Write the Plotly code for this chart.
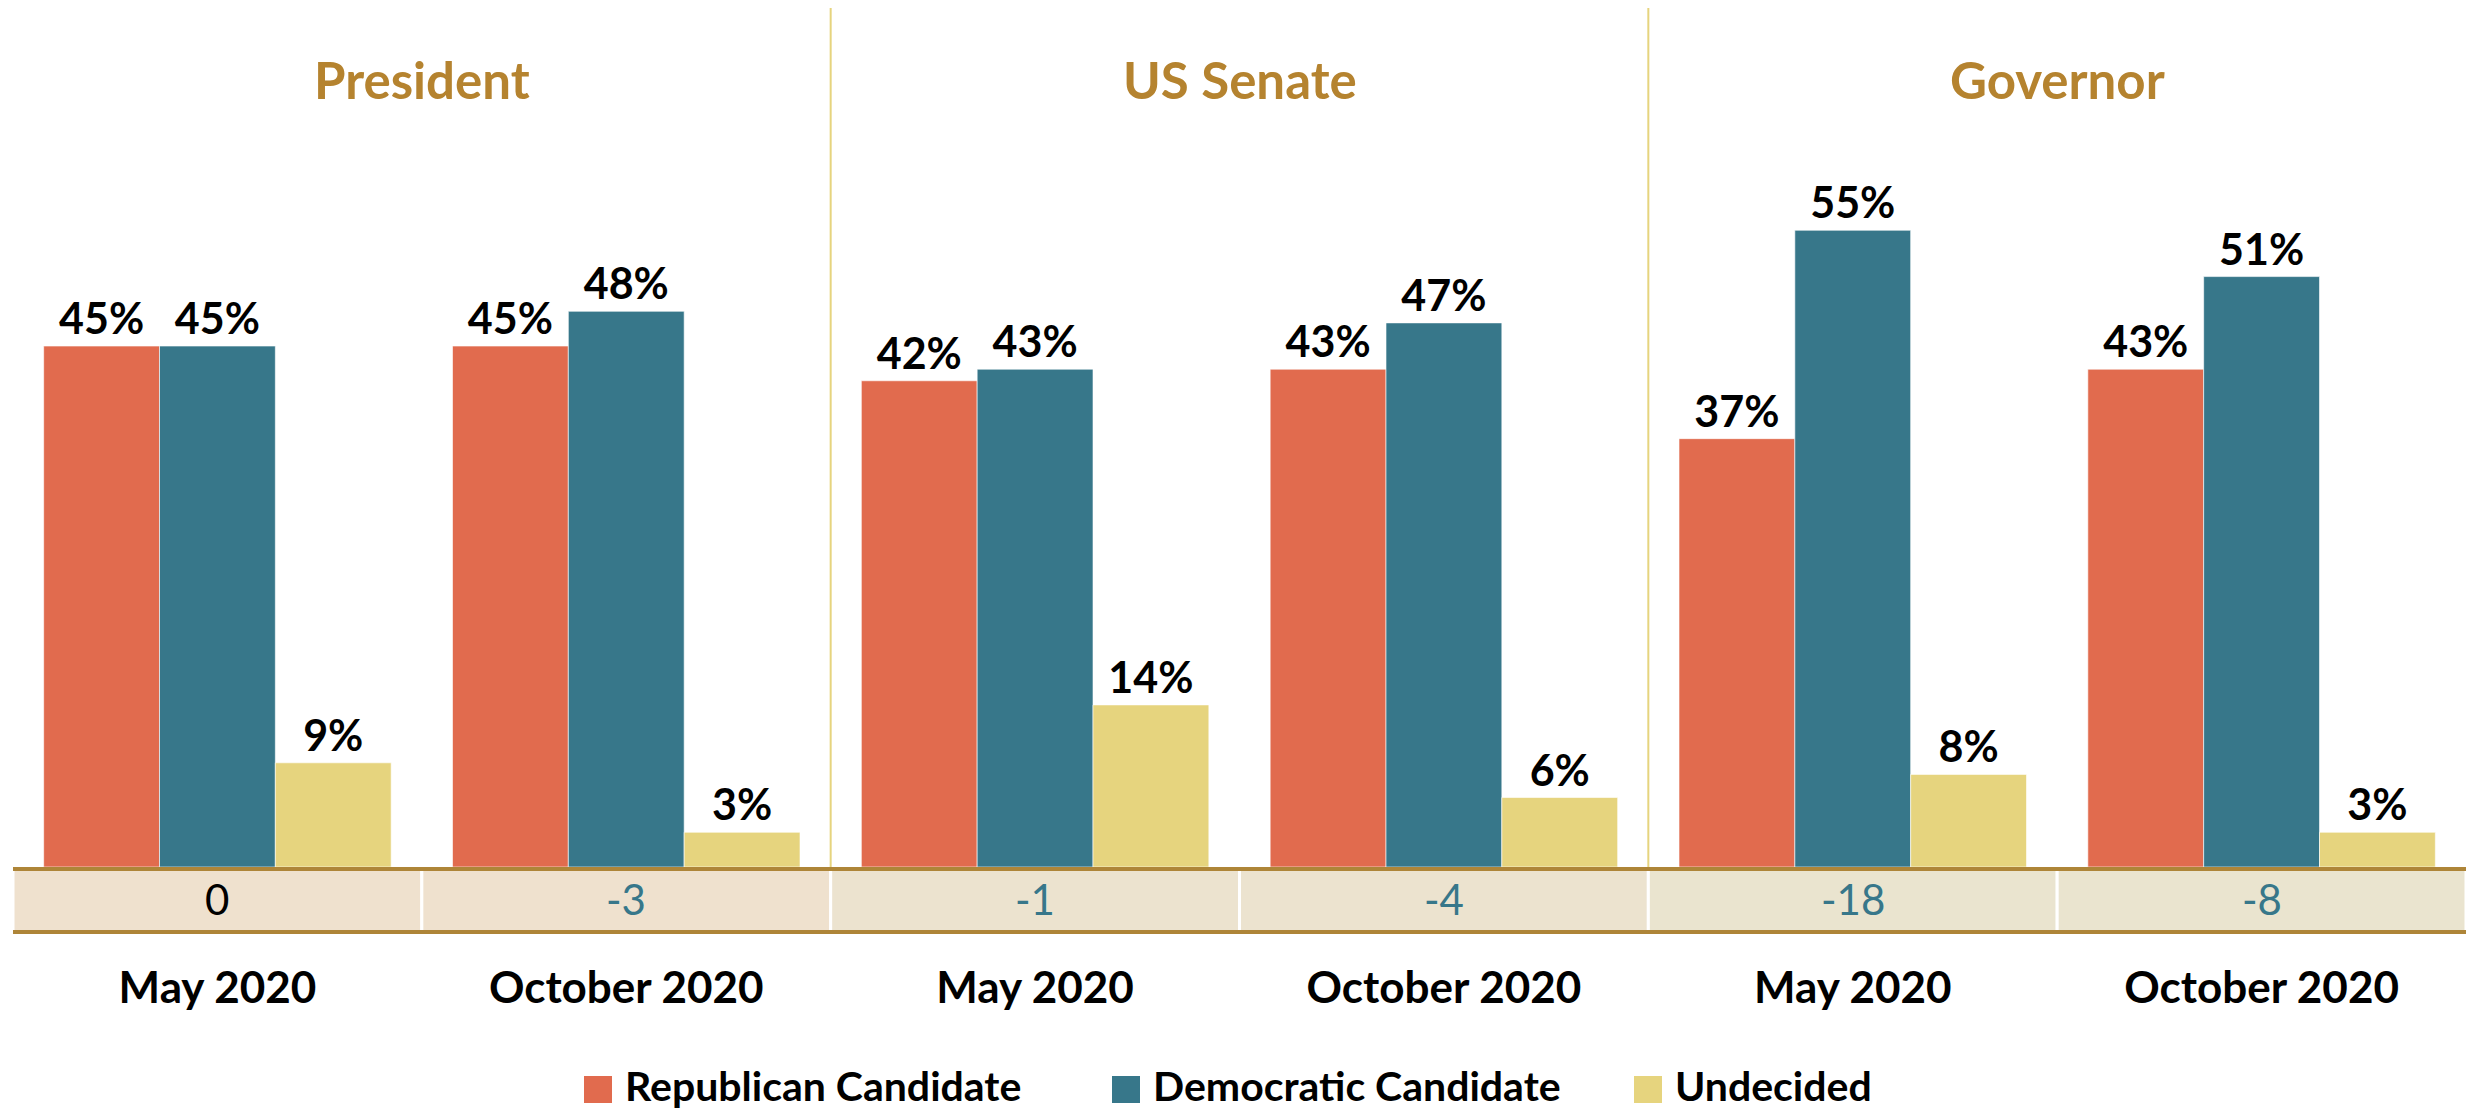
import plotly.graph_objects as go

# Poll results by race and survey wave
panels = ["President", "US Senate", "Governor"]
periods = ["May 2020", "October 2020"]
republican = [45, 45, 42, 43, 37, 43]
democratic = [45, 48, 43, 47, 55, 51]
undecided = [9, 3, 14, 6, 8, 3]
margins = [0, -3, -1, -4, -18, -8]
series_names = ["Republican Candidate", "Democratic Candidate", "Undecided"]

REP = "#E16B4E"
DEM = "#37778A"
UND = "#E6D47E"
GOLD = "#B5832F"
LINE_GOLD = "#AE8538"
FONT = "Lato"

# the page body has an 8px margin, so the figure is drawn 8px in from the corner
OFF = 8
W, H = 2478 - OFF, 1113 - OFF
M_L, M_R, M_T, M_B = 13 - OFF, 12, 0, 246
plot_w = W - M_L - M_R
plot_h = H - M_T - M_B
y_zero = H - M_B  # figure row of the zero line


def px_x(p):
    # page pixel column -> paper x
    return (p - OFF - M_L) / plot_w


def px_y(p):
    # page pixel row -> paper y
    return (y_zero - (p - OFF)) / plot_h


x_pos = list(range(len(republican)))
tick_text = periods * len(panels)
colors = [REP, DEM, UND]

fig = go.Figure()

for name, values, color in zip(series_names, [republican, democratic, undecided], colors):
    fig.add_trace(
        go.Bar(
            x=x_pos,
            y=values,
            name=name,
            marker=dict(color=color, line=dict(color="rgba(255,255,255,0.6)", width=1)),
            text=[f"{v}%" for v in values],
            textposition="outside",
            textfont=dict(family=FONT, size=43, color="black", weight="bold"),
            constraintext="none",
            cliponaxis=False,
            showlegend=False,
        )
    )

shapes = []
annotations = []

# panel dividers
for xv in [1.5, 3.5]:
    shapes.append(dict(type="line", xref="x", yref="paper", x0=xv, x1=xv, y0=0, y1=1,
                       line=dict(color=UND, width=2)))

# margin strip below the axis
strip_top = px_y(869)
strip_bot = px_y(932)
cell_fills = ["#EFE1CE", "#EFE1CE", "#ECE3CF", "#ECE3CF", "#EAE4CF", "#EAE4CF"]
for i, m in enumerate(margins):
    shapes.append(dict(type="rect", xref="x", yref="paper", x0=i - 0.5, x1=i + 0.5,
                       y0=strip_bot, y1=strip_top, fillcolor=cell_fills[i],
                       line=dict(color="white", width=3), layer="below"))
    annotations.append(dict(
        x=i, y=px_y(899), xref="x", yref="paper",
        text=str(m), showarrow=False, yanchor="middle",
        font=dict(family=FONT, size=42, color="black" if m == 0 else DEM),
    ))
for yv in [strip_top, strip_bot]:
    shapes.append(dict(type="line", xref="paper", yref="paper", x0=0, x1=1, y0=yv, y1=yv,
                       line=dict(color=LINE_GOLD, width=4)))

# panel titles
for k, title in enumerate(panels):
    annotations.append(dict(
        x=2 * k + 0.5, y=px_y(80), xref="x", yref="paper",
        text=title, showarrow=False, yanchor="middle",
        font=dict(family=FONT, size=51, color=GOLD, weight="bold"),
    ))

# legend drawn below the chart
legend_left = [584, 1112, 1634]
for name, color, left in zip(series_names, colors, legend_left):
    shapes.append(dict(type="rect", xref="paper", yref="paper",
                       x0=px_x(left), x1=px_x(left + 28), y0=px_y(1103), y1=px_y(1076),
                       fillcolor=color, line=dict(width=0)))
    annotations.append(dict(
        x=px_x(left + 39), y=px_y(1085), xref="paper", yref="paper",
        text=name, showarrow=False, xanchor="left", yanchor="middle",
        font=dict(family=FONT, size=41, color="black", weight="bold"),
    ))

fig.update_layout(
    width=W,
    height=H,
    margin=dict(l=M_L, r=M_R, t=M_T, b=M_B, autoexpand=False),
    paper_bgcolor="white",
    plot_bgcolor="white",
    barmode="group",
    bargap=0.15,
    bargroupgap=0,
    font=dict(family=FONT, color="black"),
    shapes=shapes,
    annotations=annotations,
    showlegend=False,
)

fig.update_xaxes(
    range=[-0.5, 5.5],
    tickvals=x_pos,
    ticktext=tick_text,
    tickfont=dict(family=FONT, size=44, color="black", weight="bold"),
    ticks="outside",
    ticklen=82,
    tickcolor="rgba(0,0,0,0)",
    showgrid=False,
    showline=False,
    zeroline=False,
)
fig.update_yaxes(range=[0, 74.2], showticklabels=False, showgrid=False, zeroline=False)

fig.write_html("out.html")
